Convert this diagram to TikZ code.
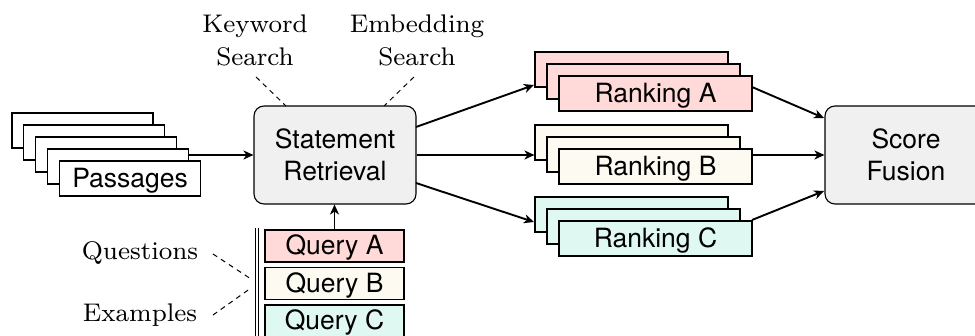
\documentclass[tikz,border=0pt]{standalone}
\usepackage{fontspec}
\newfontfamily\sansf{TeX Gyre Heros}
\newfontfamily\serifw{lmroman8-regular}[Extension=.otf]
\usetikzlibrary{arrows.meta}
\definecolor{pinkf}{RGB}{255,218,216}
\definecolor{creamf}{RGB}{253,250,242}
\definecolor{mintf}{RGB}{224,248,242}
\definecolor{grayf}{RGB}{240,240,240}
\tikzset{
  cardbase/.style={draw=black, line width=1.1pt, fill=white, inner sep=0pt,
    text height=18pt, text depth=0pt, font=\sansf\fontsize{26.5}{32}\selectfont},
  pcard/.style={cardbase, minimum width=141pt, minimum height=35pt},
  rcard/.style={cardbase, minimum width=193pt, minimum height=35pt},
  qcard/.style={cardbase, minimum width=139pt, minimum height=32pt},
  bigbox/.style={draw=black, line width=1.1pt, rounded corners=10pt, fill=grayf,
    minimum width=162pt, minimum height=98pt, inner sep=0pt, align=center,
    font=\sansf\fontsize{26.5}{32}\selectfont},
  note/.style={font=\serifw\fontsize{25.5}{32.3}\selectfont, align=center, inner sep=0pt},
  arr/.style={-{Stealth[length=10pt,width=9pt,inset=3pt]}, line width=1.9pt},
  dsh/.style={dash pattern=on 5pt off 4.5pt, line width=1pt}
}
\begin{document}
\begin{tikzpicture}[x=1pt,y=-1pt]
\useasboundingbox (0,0) rectangle (975,336);

% main boxes
\node[bigbox] (sr) at (335,155) {Statement\\Retrieval};
\node[bigbox] (sf) at (906,155) {Score\\Fusion};

% passages stack
\node[pcard] (p1) at (82.5,130.5) {};
\node[pcard] (p2) at (94.4,142.5) {};
\node[pcard] (p3) at (106.3,154.5) {};
\node[pcard] (p4) at (118.2,166.5) {};
\node[pcard] (pas) at (130.1,178.5) {Passages};
\coordinate (pout) at (p4.east |- sr.west);
\draw[arr] (pout) -- (sr.west);

% ranking stacks
\node[rcard, fill=pinkf] (ra1) at (631.5,69.5) {};
\node[rcard, fill=pinkf] (ra2) at (643.5,81.5) {};
\node[rcard, fill=pinkf] (ra) at (655.5,93.5) {Ranking A};
\node[rcard, fill=creamf] (rb1) at (631.5,142.5) {};
\node[rcard, fill=creamf] (rb2) at (643.5,154.5) {};
\node[rcard, fill=creamf] (rb) at (655.5,166.5) {Ranking B};
\node[rcard, fill=mintf] (rc1) at (631.5,214.5) {};
\node[rcard, fill=mintf] (rc2) at (643.5,226.5) {};
\node[rcard, fill=mintf] (rc) at (655.5,238.5) {Ranking C};

% retrieval -> rankings
\coordinate (sra) at (416,127);
\coordinate (ta) at (534,85);
\coordinate (src) at (416,183);
\coordinate (tc) at (534,222);
\draw[arr] (sra) -- (ta);
\draw[arr] (sr.east) -- (rb1.west |- sr.east);
\draw[arr] (src) -- (tc);

% rankings -> fusion
\coordinate (fa) at (752,87);
\coordinate (fta) at (824,118);
\coordinate (fc) at (752,220);
\coordinate (ftc) at (824,191);
\draw[arr] (fa) -- (fta);
\draw[arr] (rb.east |- sf.west) -- (sf.west);
\draw[arr] (fc) -- (ftc);

% queries
\node[qcard, fill=pinkf] (qa) at (334.5,246) {Query A};
\node[qcard, fill=creamf] (qb) at (334.5,283.5) {Query B};
\node[qcard, fill=mintf] (qc) at (334.5,321) {Query C};
\draw[arr] (qa.north) -- (qa.north |- sr.south);
\coordinate (bt) at (256.7,228);
\coordinate (bb) at (256.7,345);
\draw[line width=0.9pt, double, double distance=2.2pt] (bt) -- (bb);

% notes
\node[note] (kw) at (255,40.5) {Keyword\\Search};
\node[note] (es) at (417,40.5) {Embedding\\Search};
\coordinate (kw1) at (256,77);
\coordinate (kw2) at (286,106);
\coordinate (es1) at (414,77);
\coordinate (es2) at (384,106);
\draw[dsh] (kw1) -- (kw2);
\draw[dsh] (es1) -- (es2);

\node[note, anchor=base] (qu) at (140,260) {Questions};
\node[note, anchor=base] (ex) at (140,321.7) {Examples};
\coordinate (qu1) at (213,254);
\coordinate (qu2) at (251,279);
\coordinate (ex1) at (213,315);
\coordinate (ex2) at (251,288);
\draw[dsh] (qu1) -- (qu2);
\draw[dsh] (ex1) -- (ex2);
\end{tikzpicture}
\end{document}
